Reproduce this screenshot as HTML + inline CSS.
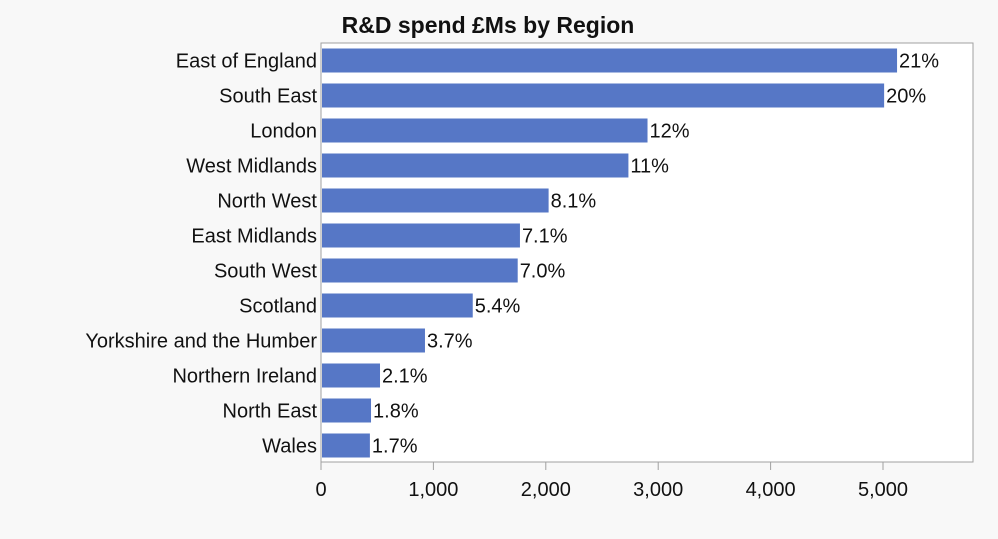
<!DOCTYPE html>
<html><head><meta charset="utf-8"><style>
body{margin:0;background:#f8f8f8;}
svg{display:block;font-family:"Segoe UI","Liberation Sans",sans-serif;}
</style></head><body>
<svg id="chart" width="998" height="539">
<rect width="998" height="539" fill="#f8f8f8"/>
<text x="488" y="33" text-anchor="middle" font-size="23" font-weight="bold" fill="#111">R&amp;D spend £Ms by Region</text>
<rect x="321" y="43" width="652" height="419" fill="#fff" stroke="#a0a0a0"/>
<g id="bars"></g><g id="axis"></g>
</svg>
<script>
const categories=["East of England","South East","London","West Midlands","North West","East Midlands","South West","Scotland","Yorkshire and the Humber","Northern Ireland","North East","Wales"];
const values=[5125,5010,2905,2735,2025,1770,1750,1350,925,525,445,435];
const pctLabels=["21%","20%","12%","11%","8.1%","7.1%","7.0%","5.4%","3.7%","2.1%","1.8%","1.7%"];
const ticks=[0,1000,2000,3000,4000,5000];
const tickLabels=["0","1,000","2,000","3,000","4,000","5,000"];
const NS="http://www.w3.org/2000/svg";
const x0=321,pxPer=112.4/1000,plotTop=43,rowH=35,barH=24;
const xs=v=>x0+v*pxPer;
const ys=i=>plotTop+i*rowH+rowH/2;
const bars=document.getElementById('bars'),axis=document.getElementById('axis');
function mk(t,a,p){const e=document.createElementNS(NS,t);for(const k in a)e.setAttribute(k,a[k]);p.appendChild(e);return e;}
categories.forEach((c,i)=>{
  const cy=ys(i);
  const r=mk('rect',{x:x0+1,y:cy-barH/2,width:xs(values[i])-x0-1,height:barH,fill:'#5677c6'},bars);
  
  
  const l=mk('text',{x:xs(values[i])+2,y:cy+7,'font-size':20,fill:'#111'},bars);
  l.textContent=pctLabels[i];
  
  
  const cl=mk('text',{x:317,y:cy+7,'font-size':20,fill:'#111','text-anchor':'end'},axis);
  cl.textContent=c;
  
  
});
ticks.forEach((t,i)=>{
  const x=xs(t);
  const tk=mk('line',{x1:x,x2:x,y1:462,y2:470,stroke:'#a0a0a0'},axis);
  
  
  const tl=mk('text',{x:x,y:496,'font-size':20,fill:'#111','text-anchor':'middle'},axis);
  tl.textContent=tickLabels[i];
  
  
});
</script>
</body></html>
